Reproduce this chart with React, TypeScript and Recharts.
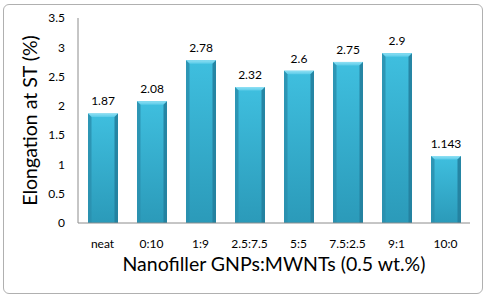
import React from 'react';
import { BarChart, Bar, XAxis, YAxis, LabelList, Label } from 'recharts';

const categories = ['neat', '0:10', '1:9', '2.5:7.5', '5:5', '7.5:2.5', '9:1', '10:0'];
const elongation = [1.87, 2.08, 2.78, 2.32, 2.6, 2.75, 2.9, 1.143];
const yTicks = [0, 0.5, 1, 1.5, 2, 2.5, 3, 3.5];
const valueLabels = ['1.87', '2.08', '2.78', '2.32', '2.6', '2.75', '2.9', '1.143'];

const data = categories.map((c, i) => ({ name: c, value: elongation[i], label: valueLabels[i] }));

const FONT = 'Lato, "Open Sans", sans-serif';

const BevelBar = (props: any) => {
  const { x, y, width, height } = props;
  if (!height || height <= 0) return null;
  const b = 3.5;
  return (
    <g>
      <rect x={x} y={y} width={width} height={height} fill="url(#faceGrad)" />
      <polygon points={`${x},${y} ${x + width},${y} ${x + width - b},${y + b} ${x + b},${y + b}`} fill="url(#topGrad)" />
      <polygon points={`${x},${y} ${x + b},${y + b} ${x + b},${y + height} ${x},${y + height}`} fill="#2a8fae" opacity={0.85} />
      <polygon points={`${x + width},${y} ${x + width - b},${y + b} ${x + width - b},${y + height} ${x + width},${y + height}`} fill="#23809d" opacity={0.9} />
    </g>
  );
};

export default function App() {
  return (
    <div style={{ position: 'absolute', left: 0, top: 0, width: 487, height: 299, background: '#fff' }}>
      <div style={{ position: 'absolute', left: 3, top: 4, width: 480, height: 290, border: '1px solid #b0b0b0', borderRadius: 6, boxSizing: 'border-box' }} />
      <BarChart width={487} height={299} data={data} margin={{ top: 18, right: 17, left: 0, bottom: 16 }} barSize={30}>
        <defs>
          <linearGradient id="faceGrad" x1="0" y1="0" x2="0" y2="1">
            <stop offset="0%" stopColor="#3fbfdf" />
            <stop offset="100%" stopColor="#2b9ab9" />
          </linearGradient>
          <linearGradient id="topGrad" x1="0" y1="0" x2="0" y2="1">
            <stop offset="0%" stopColor="#8fe0f4" />
            <stop offset="100%" stopColor="#5acbe8" />
          </linearGradient>
        </defs>
        <XAxis
          dataKey="name"
          height={60}
          tickLine={false}
          axisLine={{ stroke: '#8c8c8c' }}
          tick={{ fill: '#000', fontSize: 12, fontFamily: FONT }}
          tickMargin={10}
          interval={0}
        >
          <Label value="Nanofiller GNPs:MWNTs (0.5 wt.%)" position="insideBottom" offset={12} style={{ fill: '#000', fontSize: 19.5, fontFamily: FONT }} />
        </XAxis>
        <YAxis
          width={78}
          domain={[0, 3.5]}
          ticks={yTicks}
          tickLine={false}
          axisLine={{ stroke: '#8c8c8c' }}
          tick={{ fill: '#000', fontSize: 12, fontFamily: FONT }}
          tickMargin={7}
          tickFormatter={(v: number) => String(v)}
        >
          <Label value="Elongation at ST (%)" angle={-90} position="insideLeft" offset={30} style={{ fill: '#000', fontSize: 19.5, fontFamily: FONT, textAnchor: 'middle' }} />
        </YAxis>
        <Bar dataKey="value" isAnimationActive={false} shape={<BevelBar />}>
          <LabelList dataKey="label" position="top" offset={8} style={{ fill: '#000', fontSize: 12, fontFamily: FONT }} />
        </Bar>
      </BarChart>
    </div>
  );
}
